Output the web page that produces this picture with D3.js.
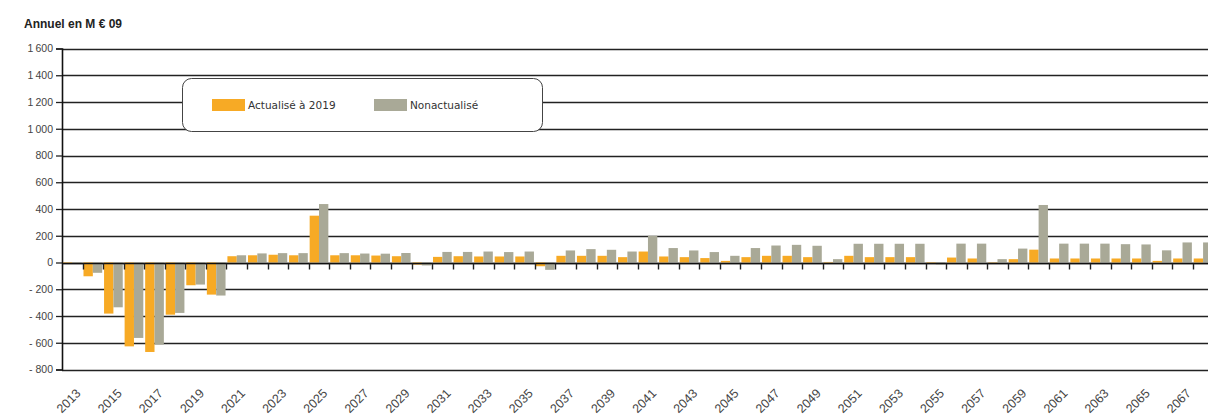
<!DOCTYPE html>
<html>
<head>
<meta charset="utf-8">
<script src="https://cdn.jsdelivr.net/npm/d3@7/dist/d3.min.js"></script>
<style>
  html, body { margin: 0; padding: 0; background: #fff; overflow: hidden; }
  svg { display: block; }
</style>
</head>
<body>
<svg id="chart" width="1208" height="415"></svg>
<script>
// Annual flows, M€ 2009, per year
const years = [2013,2014,2015,2016,2017,2018,2019,2020,2021,2022,2023,2024,2025,2026,2027,2028,2029,2030,
  2031,2032,2033,2034,2035,2036,2037,2038,2039,2040,2041,2042,2043,2044,2045,2046,2047,2048,2049,2050,
  2051,2052,2053,2054,2055,2056,2057,2058,2059,2060,2061,2062,2063,2064,2065,2066,2067,2068,2069];

// Discounted to 2019
const actualise = [-8,-103,-382,-627,-669,-390,-170,-240,47,54,58,54,350,54,54,52,47,-15,
  42,47,45,45,45,-28,50,50,50,40,82,45,40,33,12,40,50,50,40,4,
  50,40,40,40,-5,37,30,3,25,96,30,30,30,30,30,12,30,30,null];

// Not discounted
const nonActualise = [-5,-77,-335,-564,-614,-377,-165,-247,54,68,70,70,437,70,67,66,71,-22,
  79,79,82,78,82,-55,90,100,95,82,200,108,90,78,50,108,127,132,125,25,
  140,140,140,140,-15,141,141,25,104,430,141,141,141,137,135,91,150,150,null];

const yTicks = [-800,-600,-400,-200,0,200,400,600,800,1000,1200,1400,1600];
const seriesNames = ["Actualisé à 2019", "Nonactualisé"];
const seriesColors = ["#F7AA25", "#A9A997"];

const svg = d3.select("#chart");
const plotLeft = 62, plotTop = 48.5, plotBottom = 369.5, step = 20.56;

const x = d3.scaleBand()
  .domain(years)
  .range([plotLeft, plotLeft + step * years.length])
  .paddingInner(0)
  .paddingOuter(0);

const y = d3.scaleLinear().domain([-800, 1600]).range([plotBottom, plotTop]);

const inner = d3.scaleBand().domain([0, 1]).range([0, x.bandwidth()]).paddingOuter(0.1).paddingInner(0);

// Horizontal grid lines
svg.append("g")
  .selectAll("line")
  .data(yTicks)
  .join("line")
  .attr("x1", plotLeft)
  .attr("x2", 1208)
  .attr("y1", d => Math.round(y(d)) + 0.5)
  .attr("y2", d => Math.round(y(d)) + 0.5)
  .attr("stroke", "#222")
  .attr("stroke-width", 1.4);

// Y axis with tick labels (French number format)
const frFormat = d3.formatLocale({ decimal: ",", thousands: "\u2009", grouping: [3], currency: ["", "€"] }).format(",d");
const yAxis = d3.axisLeft(y)
  .tickValues(yTicks)
  .tickSize(6)
  .tickPadding(3)
  .tickFormat(d => d < 0 ? "- " + frFormat(-d) : frFormat(d));

const gy = svg.append("g")
  .attr("transform", `translate(${plotLeft},0)`)
  .call(yAxis);
gy.select(".domain").attr("stroke", "#111").attr("stroke-width", 1.6);
gy.selectAll(".tick line").attr("stroke", "#222").attr("stroke-width", 1.3);
gy.selectAll(".tick text")
  .attr("fill", "#444")
  .style("font-family", "'Liberation Sans', Arial, sans-serif")
  .style("font-size", "10.5px");

// Bars
const series = [actualise, nonActualise];
series.forEach((vals, si) => {
  svg.append("g")
    .selectAll("rect")
    .data(years.map((yr, i) => ({ yr, v: vals[i] })).filter(d => d.v !== null))
    .join("rect")
    .attr("x", d => x(d.yr) + inner(si))
    .attr("width", inner.bandwidth())
    .attr("y", d => y(Math.max(0, d.v)))
    .attr("height", d => Math.abs(y(d.v) - y(0)))
    .attr("fill", seriesColors[si]);
});

// Category axis along the zero line
const gx = svg.append("g")
  .attr("transform", `translate(0,${Math.round(y(0)) + 0.5})`);
gx.append("line")
  .attr("x1", plotLeft).attr("x2", 1208)
  .attr("stroke", "#111").attr("stroke-width", 1.6);
gx.selectAll(".sep")
  .data(years.slice(1))
  .join("line")
  .attr("class", "sep")
  .attr("x1", d => Math.round(x(d)) + 0.5)
  .attr("x2", d => Math.round(x(d)) + 0.5)
  .attr("y1", 0)
  .attr("y2", 6)
  .attr("stroke", "#222")
  .attr("stroke-width", 1.4);

// Rotated year labels on odd years
svg.append("g")
  .selectAll("text")
  .data(years.filter(d => d % 2 === 1))
  .join("text")
  .attr("transform", d => `translate(${x(d) + x.bandwidth() / 2 + 3},${388}) rotate(-45)`)
  .attr("text-anchor", "end")
  .attr("dy", "0.7em")
  .attr("fill", "#444")
  .style("font-family", "'Liberation Sans', Arial, sans-serif")
  .style("font-size", "12.5px")
  .text(d => d);

// Title
svg.append("text")
  .attr("x", 24)
  .attr("y", 28)
  .attr("fill", "#222")
  .style("font-family", "'Liberation Sans', Arial, sans-serif")
  .style("font-size", "12px")
  .style("font-weight", "bold")
  .text("Annuel en M € 09");

// Legend
const legend = svg.append("g");
legend.append("rect")
  .attr("x", 182.5).attr("y", 78.5)
  .attr("width", 360).attr("height", 53)
  .attr("rx", 9).attr("ry", 9)
  .attr("fill", "#fff")
  .attr("stroke", "#444")
  .attr("stroke-width", 1);
const legendX = [212, 374];
seriesNames.forEach((name, i) => {
  legend.append("rect")
    .attr("x", legendX[i]).attr("y", 99)
    .attr("width", 33).attr("height", 12)
    .attr("fill", seriesColors[i]);
  legend.append("text")
    .attr("x", legendX[i] + 36)
    .attr("y", 109)
    .attr("fill", "#333")
    .style("font-family", "'DejaVu Sans', Verdana, sans-serif")
    .style("font-size", "10.5px")
    .text(name);
});
</script>
</body>
</html>
